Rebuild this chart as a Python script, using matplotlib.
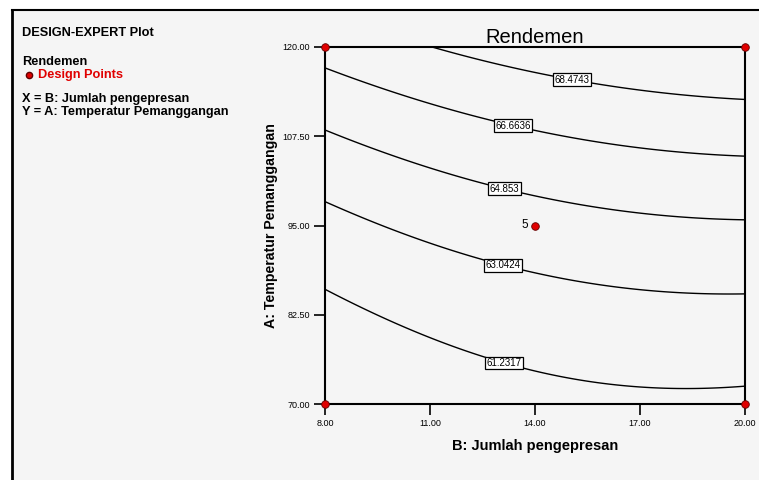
import numpy as np
import matplotlib
matplotlib.use("Agg")
import matplotlib.pyplot as plt
from matplotlib.lines import Line2D

# Quadratic response model (coefficients estimated from the contour picture)
# Rendemen = b0 + b1*X + b2*Y + b11*X^2 + b22*Y^2 + b12*X*Y   (X = B, Y = A)
b0, b1, b2, b11, b22, b12 = 59.330446, 0.32939117, -0.14644525, -0.014210696, 0.0014789909, 0.0026490333

levels = [61.2317, 63.0424, 64.853, 66.6636, 68.4743]
label_x = [13.14, 13.09, 13.14, 13.37, 15.06]
label_y = [76.0, 89.5, 100.3, 109.1, 115.6]

design_x = [8, 20, 8, 20, 14]
design_y = [120, 120, 70, 70, 95]
center_count = "5"

xticks = [8, 11, 14, 17, 20]
yticks = [70, 82.5, 95, 107.5, 120]

plt.rcParams['font.family'] = ['Liberation Sans', 'DejaVu Sans']

fig = plt.figure(figsize=(7.59, 4.8), dpi=100)
fig.patch.set_facecolor('white')
# panel background and frame
bg = plt.Rectangle((12/759, 0), 1, 1 - 10/480, transform=fig.transFigure,
                   facecolor='#f5f5f5', edgecolor='none', zorder=-10)
fig.patches.append(bg)
fig.add_artist(Line2D([12/759, 12/759], [0, 1 - 10/480], color='black', lw=2, transform=fig.transFigure))
fig.add_artist(Line2D([12/759, 1], [1 - 10/480, 1 - 10/480], color='black', lw=1.5, transform=fig.transFigure))

ax = fig.add_axes([325/759, 1 - 404/480, 420/759, 357/480])
ax.set_facecolor('#f5f5f5')
gx = np.linspace(8, 20, 300)
gy = np.linspace(70, 120, 300)
GX, GY = np.meshgrid(gx, gy)
Z = b0 + b1*GX + b2*GY + b11*GX**2 + b22*GY**2 + b12*GX*GY
cs = ax.contour(GX, GY, Z, levels=levels, colors='k', linewidths=1.0)
texts = ax.clabel(cs, levels=levels, inline=False, fontsize=7,
                  fmt={l: f"{l:g}" for l in levels},
                  manual=list(zip(label_x, label_y)))
for t in texts:
    t.set_bbox(dict(boxstyle='square,pad=0.15', facecolor='white', edgecolor='black', linewidth=0.9))
    t.set_rotation(0)

ax.scatter(design_x, design_y, s=30, color='#e00000', edgecolor='#600000', linewidth=0.6,
           zorder=5, clip_on=False)
ax.text(design_x[-1] - 0.2, design_y[-1], center_count, ha='right', va='center', fontsize=8.5)

ax.set_xlim(8, 20)
ax.set_ylim(70, 120)
ax.set_xticks(xticks)
ax.set_xticklabels([f"{v:.2f}" for v in xticks])
ax.set_yticks(yticks)
ax.set_yticklabels([f"{v:.2f}" for v in yticks])
ax.tick_params(direction='out', length=8, width=1.2, labelsize=6.5, pad=3)
for s in ax.spines.values():
    s.set_linewidth(1.5)

ax.set_title("Rendemen", fontsize=14.5, pad=2)
ax.set_xlabel("B: Jumlah pengepresan", fontsize=10.5, fontweight='bold', labelpad=8)
ax.set_ylabel("A: Temperatur Pemanggangan", fontsize=10.2, fontweight='bold', labelpad=3)

# left-hand legend text
fs = 9.2
fig.text(22/759, 1 - 33/480, "DESIGN-EXPERT Plot", fontsize=fs, fontweight='bold', va='center')
fig.text(22/759, 1 - 62/480, "Rendemen", fontsize=fs, fontweight='bold', va='center')
fig.add_artist(Line2D([29/759], [1 - 75/480], marker='o', markersize=4.5, color='#e00000',
                      markeredgecolor='#600000', transform=fig.transFigure))
fig.text(38/759, 1 - 75/480, "Design Points", fontsize=fs, fontweight='bold', color='#e00000', va='center')
fig.text(22/759, 1 - 99/480, "X = B: Jumlah pengepresan", fontsize=fs, fontweight='bold', va='center')
fig.text(22/759, 1 - 112/480, "Y = A: Temperatur Pemanggangan", fontsize=fs, fontweight='bold', va='center')

fig.savefig("out.png", dpi=100, facecolor=fig.get_facecolor())
